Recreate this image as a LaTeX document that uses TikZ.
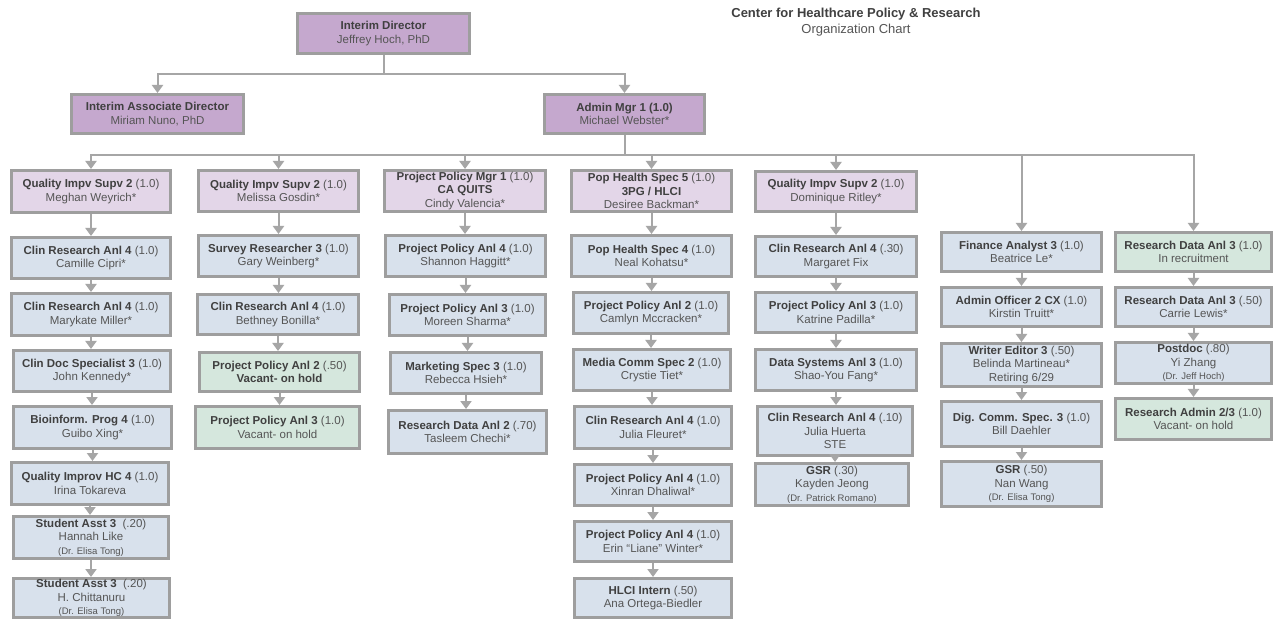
\documentclass[tikz,border=0pt]{standalone}
\usepackage{fontspec}
\setmainfont{Liberation Sans}
\usetikzlibrary{arrows.meta}
\definecolor{topp}{HTML}{C5A8CE}
\definecolor{supp}{HTML}{E3D6E8}
\definecolor{bluec}{HTML}{D8E1EC}
\definecolor{greenc}{HTML}{D5E7DD}
\definecolor{bordc}{HTML}{9E9E9E}
\definecolor{connc}{HTML}{A6A6A6}
\definecolor{tbold}{HTML}{404040}
\definecolor{treg}{HTML}{555555}
\newcommand{\bh}[1]{{\bfseries\color{tbold}#1}}
\newcommand{\smtxt}[1]{{\fontsize{9.5}{11}\selectfont #1}}
\newcommand{\orgbox}[7]{\node[#6, minimum width={#4-#2-2.6}, minimum height={#5-#3-2.6}] (#1) at ({(#2+#4)/2},{(#3+#5)/2}) {#7};}
\tikzset{
  box/.style={draw=bordc, line width=2.6pt, align=center, inner sep=0pt,
    font=\fontsize{11.5}{13.5}\selectfont, text=treg},
  toppurple/.style={box, fill=topp},
  suppurple/.style={box, fill=supp},
  bluebox/.style={box, fill=bluec},
  greenbox/.style={box, fill=greenc},
  conn/.style={draw=connc, line width=2pt},
  arr/.style={conn, -{Triangle[width=11pt,length=8pt]}},
}
\begin{document}
\begin{tikzpicture}[x=1pt,y=-1pt]
\fill[white] (0,0) rectangle (1275,620);
\useasboundingbox (0,0) rectangle (1275,620);

% title
\node[font=\fontsize{13}{15}\selectfont\bfseries, text=tbold] (title) at (856,14) {Center for Healthcare Policy \& Research};
\node[font=\fontsize{13}{15}\selectfont, text=treg] (subtitle) at (856,30) {Organization Chart};

% top
\orgbox{dir}{296}{12}{471}{55}{toppurple}{\bh{Interim Director}\\Jeffrey Hoch, PhD}
\orgbox{assoc}{70}{93}{245}{135}{toppurple}{\bh{Interim Associate Director}\\Miriam Nuno, PhD}
\orgbox{admin}{543}{93}{706}{135}{toppurple}{\bh{Admin Mgr 1 (1.0)}\\Michael Webster*}

% column 1
\orgbox{c1a}{10}{169}{172}{214}{suppurple}{\bh{Quality Impv Supv 2} (1.0)\\Meghan Weyrich*}
\orgbox{c1b}{10}{236}{172}{280}{bluebox}{\bh{Clin Research Anl 4} (1.0)\\Camille Cipri*}
\orgbox{c1c}{10}{292}{172}{337}{bluebox}{\bh{Clin Research Anl 4} (1.0)\\Marykate Miller*}
\orgbox{c1d}{12}{349}{172}{393}{bluebox}{\bh{Clin Doc Specialist 3} (1.0)\\John Kennedy*}
\orgbox{c1e}{12}{405}{173}{450}{bluebox}{\bh{Bioinform. Prog 4} (1.0)\\Guibo Xing*}
\orgbox{c1f}{10}{461}{170}{506}{bluebox}{\bh{Quality Improv HC 4} (1.0)\\Irina Tokareva}
\orgbox{c1g}{12}{515}{170}{560}{bluebox}{\bh{Student Asst 3}\ \ (.20)\\Hannah Like\\\smtxt{(Dr. Elisa Tong)}}
\orgbox{c1h}{12}{577}{171}{619}{bluebox}{\bh{Student Asst 3}\ \ (.20)\\H. Chittanuru\\\smtxt{(Dr. Elisa Tong)}}

% column 2
\orgbox{c2a}{197}{169}{360}{213}{suppurple}{\bh{Quality Impv Supv 2} (1.0)\\Melissa Gosdin*}
\orgbox{c2b}{197}{234}{360}{278}{bluebox}{\bh{Survey Researcher 3} (1.0)\\Gary Weinberg*}
\orgbox{c2c}{196}{293}{360}{336}{bluebox}{\bh{Clin Research Anl 4} (1.0)\\Bethney Bonilla*}
\orgbox{c2d}{198}{351}{361}{393}{greenbox}{\bh{Project Policy Anl 2} (.50)\\\bh{Vacant- on hold}}
\orgbox{c2e}{194}{405}{361}{450}{greenbox}{\bh{Project Policy Anl 3} (1.0)\\Vacant- on hold}

% column 3
\orgbox{c3a}{383}{169}{547}{213}{suppurple}{\bh{Project Policy Mgr 1} (1.0)\\\bh{CA QUITS}\\Cindy Valencia*}
\orgbox{c3b}{384}{234}{547}{278}{bluebox}{\bh{Project Policy Anl 4} (1.0)\\Shannon Haggitt*}
\orgbox{c3c}{388}{293}{547}{337}{bluebox}{\bh{Project Policy Anl 3} (1.0)\\Moreen Sharma*}
\orgbox{c3d}{389}{351}{543}{395}{bluebox}{\bh{Marketing Spec 3} (1.0)\\Rebecca Hsieh*}
\orgbox{c3e}{387}{409}{548}{455}{bluebox}{\bh{Research Data Anl 2} (.70)\\Tasleem Chechi*}

% column 4
\orgbox{c4a}{570}{169}{733}{213}{suppurple}{\bh{Pop Health Spec 5} (1.0)\\\bh{3PG / HLCI}\\Desiree Backman*}
\orgbox{c4b}{570}{234}{733}{278}{bluebox}{\bh{Pop Health Spec 4} (1.0)\\Neal Kohatsu*}
\orgbox{c4c}{572}{291}{730}{335}{bluebox}{\bh{Project Policy Anl 2} (1.0)\\Camlyn Mccracken*}
\orgbox{c4d}{572}{348}{732}{392}{bluebox}{\bh{Media Comm Spec 2} (1.0)\\Crystie Tiet*}
\orgbox{c4e}{573}{405}{733}{450}{bluebox}{\bh{Clin Research Anl 4} (1.0)\\Julia Fleuret*}
\orgbox{c4f}{573}{463}{733}{507}{bluebox}{\bh{Project Policy Anl 4} (1.0)\\Xinran Dhaliwal*}
\orgbox{c4g}{573}{520}{733}{563}{bluebox}{\bh{Project Policy Anl 4} (1.0)\\Erin “Liane” Winter*}
\orgbox{c4h}{573}{577}{733}{619}{bluebox}{\bh{HLCI Intern} (.50)\\Ana Ortega-Biedler}

% column 5
\orgbox{c5a}{754}{170}{918}{213}{suppurple}{\bh{Quality Impv Supv 2} (1.0)\\Dominique Ritley*}
\orgbox{c5b}{754}{235}{918}{278}{bluebox}{\bh{Clin Research Anl 4} (.30)\\Margaret Fix}
\orgbox{c5c}{754}{291}{918}{334}{bluebox}{\bh{Project Policy Anl 3} (1.0)\\Katrine Padilla*}
\orgbox{c5d}{754}{348}{918}{392}{bluebox}{\bh{Data Systems Anl 3} (1.0)\\Shao-You Fang*}
\orgbox{c5e}{756}{405}{914}{457}{bluebox}{\bh{Clin Research Anl 4} (.10)\\Julia Huerta\\STE}
\orgbox{c5f}{754}{462}{910}{507}{bluebox}{\bh{GSR} (.30)\\Kayden Jeong\\\smtxt{(Dr. Patrick Romano)}}

% column 6
\orgbox{c6a}{940}{231}{1103}{273}{bluebox}{\bh{Finance Analyst 3} (1.0)\\Beatrice Le*}
\orgbox{c6b}{940}{286}{1103}{328}{bluebox}{\bh{Admin Officer 2 CX} (1.0)\\Kirstin Truitt*}
\orgbox{c6c}{940}{342}{1103}{388}{bluebox}{\bh{Writer Editor 3} (.50)\\Belinda Martineau*\\Retiring 6/29}
\orgbox{c6d}{940}{400}{1103}{448}{bluebox}{\bh{Dig. Comm. Spec. 3} (1.0)\\Bill Daehler}
\orgbox{c6e}{940}{460}{1103}{508}{bluebox}{\bh{GSR} (.50)\\Nan Wang\\\smtxt{(Dr. Elisa Tong)}}

% column 7
\orgbox{c7a}{1114}{231}{1273}{273}{greenbox}{\bh{Research Data Anl 3} (1.0)\\In recruitment}
\orgbox{c7b}{1114}{286}{1273}{328}{bluebox}{\bh{Research Data Anl 3} (.50)\\Carrie Lewis*}
\orgbox{c7c}{1114}{341}{1273}{385}{bluebox}{\bh{Postdoc} (.80)\\Yi Zhang\\\smtxt{(Dr. Jeff Hoch)}}
\orgbox{c7d}{1114}{397}{1273}{441}{greenbox}{\bh{Research Admin 2/3} (1.0)\\Vacant- on hold}

% top connectors
\draw[arr] (dir.south) -- ++(0,19) -| (assoc.north);
\draw[arr] (dir.south) -- ++(0,19) -| (admin.north);
\foreach \c in {c1a,c2a,c3a,c4a,c5a,c6a,c7a}
  \draw[arr] (admin.south) -- ++(0,20) -| (\c.north);

% column connectors
\foreach \a/\b in {c1a/c1b,c1b/c1c,c1c/c1d,c1d/c1e,c1e/c1f,c1f/c1g,c1g/c1h,
  c2a/c2b,c2b/c2c,c2c/c2d,c2d/c2e,
  c3a/c3b,c3b/c3c,c3c/c3d,c3d/c3e,
  c4a/c4b,c4b/c4c,c4c/c4d,c4d/c4e,c4e/c4f,c4f/c4g,c4g/c4h,
  c5a/c5b,c5b/c5c,c5c/c5d,c5d/c5e,c5e/c5f,
  c6a/c6b,c6b/c6c,c6c/c6d,c6d/c6e,
  c7a/c7b,c7b/c7c,c7c/c7d}
  \draw[arr] (\a.south) -- (\a.south |- \b.north);
\end{tikzpicture}
\end{document}
